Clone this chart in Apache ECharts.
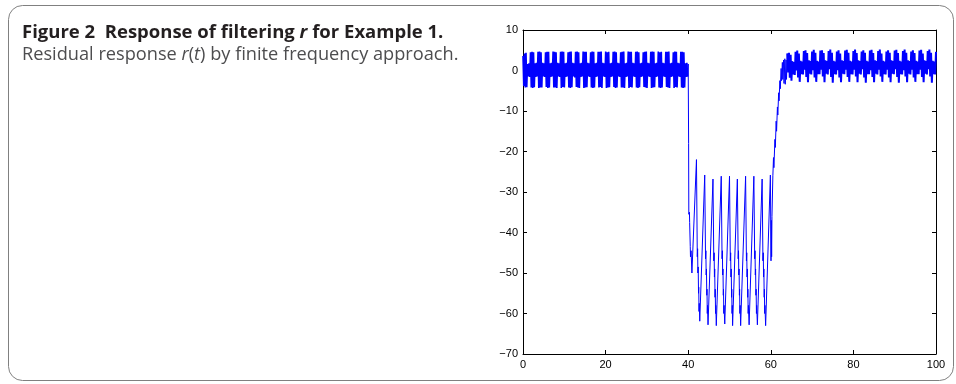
<!DOCTYPE html>
<html>
<head>
<meta charset="utf-8">
<script src="https://cdn.jsdelivr.net/npm/echarts@6/dist/echarts.min.js"></script>
<style>
  html, body { margin: 0; padding: 0; background: #fff; }
  #chart { width: 956px; height: 384px; }
</style>
</head>
<body>
<div id="chart"></div>
<script>
// axis ranges / ticks
var xTicks = { min: 0, max: 100, interval: 20 };
var yTicks = { min: -70, max: 10, interval: 10 };

// part 1: dense oscillation 0..40, sampled every dt1 from t1
var t1 = 0.0, dt1 = 0.182;
var band1 = [
  3.6,-3.8,4.2,-4.2,4.4,-4.1,1.6,-1.5,1.8,-1.6,
  4.5,-4.2,4.6,-4.3,4.5,-4.1,1.8,-1.6,1.9,-1.5,
  4.6,-4.3,4.7,-4.2,4.5,-4.2,1.9,-1.5,1.8,-1.6,
  4.5,-4.1,4.6,-4.3,4.6,-4.2,1.8,-1.6,1.9,-1.5,
  4.7,-4.2,4.6,-4.2,4.5,-4.3,1.9,-1.5,1.8,-1.6,
  4.6,-4.3,4.7,-4.1,4.6,-4.2,1.8,-1.6,1.9,-1.5,
  4.5,-4.2,4.6,-4.3,4.7,-4.1,1.9,-1.5,1.8,-1.7,
  4.6,-4.1,4.7,-4.2,4.5,-4.3,1.8,-1.6,1.9,-1.5,
  4.7,-4.3,4.6,-4.2,4.6,-4.1,1.9,-1.5,1.8,-1.6,
  4.5,-4.2,4.7,-4.3,4.6,-4.2,1.8,-1.6,1.9,-1.5,
  4.6,-4.2,4.6,-4.1,4.7,-4.3,1.9,-1.5,1.8,-1.6,
  4.7,-4.3,4.5,-4.2,4.6,-4.1,1.8,-1.6,1.9,-1.5,
  4.6,-4.1,4.7,-4.3,4.5,-4.2,1.9,-1.5,1.8,-1.6,
  4.5,-4.2,4.6,-4.2,4.7,-4.3,1.8,-1.6,1.9,-1.5,
  4.7,-4.3,4.6,-4.1,4.6,-4.2,1.9,-1.5,1.8,-1.6,
  4.6,-4.2,4.7,-4.3,4.5,-4.1,1.8,-1.6,1.9,-1.5,
  4.5,-4.1,4.6,-4.2,4.7,-4.3,1.9,-1.5,1.8,-1.6,
  4.6,-4.3,4.7,-4.2,4.6,-4.1,1.8,-1.6,1.9,-1.5,
  4.7,-4.2,4.5,-4.3,4.6,-4.2,1.9,-1.5,1.8,-1.6,
  4.6,-4.1,4.6,-4.2,4.7,-4.3,1.8,-1.6,1.9,-1.5,
  4.5,-4.3,4.7,-4.1,4.6,-4.2,1.9,-1.5,1.8,-1.6,
  4.6,-4.2,4.6,-4.3,4.5,-4.2,1.8,-1.6,1.9,-1.5
];

// part 2: fault window 40..64, [t, r]
var fault = [
  [40.0,1.6],[40.1,-18],[40.15,-35.5],[40.3,-35],[40.35,-37.5],[40.5,-43.5],[40.55,-46],[40.7,-44.5],[40.9,-50],
  [42.0,-22],
  [42.2,-46],[42.28,-44],[42.35,-50],[42.42,-48.5],[42.5,-55],[42.55,-53.5],[42.62,-59.5],[42.68,-57.5],[42.8,-61.9],
  [44.0,-25.8],
  [44.2,-46.5],[44.28,-44.5],[44.35,-50.5],[44.42,-49],[44.5,-55.5],[44.55,-54],[44.62,-60],[44.68,-58],[44.8,-62.8],
  [46.0,-26.8],
  [46.2,-47],[46.28,-45],[46.35,-51],[46.42,-49],[46.5,-56],[46.55,-54],[46.62,-60],[46.68,-58],[46.8,-63],
  [48.0,-26.1],
  [48.2,-46.5],[48.28,-44.5],[48.35,-50.5],[48.42,-49],[48.5,-55.5],[48.55,-54],[48.62,-60],[48.68,-58],[48.85,-62.6],
  [50.0,-26.1],
  [50.2,-47],[50.28,-45],[50.35,-51],[50.42,-49],[50.5,-56],[50.55,-54],[50.62,-60],[50.68,-58],[50.75,-63],
  [51.9,-26.8],
  [52.1,-46.5],[52.18,-44.5],[52.25,-50.5],[52.32,-49],[52.4,-55.5],[52.45,-54],[52.52,-60],[52.58,-58],[52.7,-63],
  [53.9,-26.1],
  [54.1,-47],[54.18,-45],[54.25,-51],[54.32,-49],[54.4,-56],[54.45,-54],[54.52,-60],[54.58,-58],[54.75,-62.8],
  [55.9,-26.1],
  [56.1,-46.5],[56.18,-44.5],[56.25,-50.5],[56.32,-49],[56.4,-55.5],[56.45,-54],[56.52,-60],[56.58,-58],[56.75,-62.8],
  [57.9,-26.8],
  [58.1,-47],[58.18,-45],[58.25,-51],[58.32,-49],[58.4,-56],[58.45,-54],[58.52,-60],[58.58,-58],[58.75,-63],
  [59.9,-25.8],
  [60.05,-47],[60.12,-37],[60.2,-46],[60.28,-36],[60.5,-26],[60.65,-21.5],[60.75,-24],[61.0,-17],[61.1,-19],
  [61.3,-12.5],[61.4,-15],[61.6,-9],[61.7,-11],[61.9,-5.5],[62.0,-7.5],[62.2,-2.5],[62.3,-4.5],[62.5,0.5],
  [62.6,-2.5],[62.8,2],[62.9,-2.2],[63.1,2.6],[63.2,-3.2],[63.4,2.9],[63.5,-3.4],[63.7,2.6],[63.8,-2.2]
];

// part 3: recovered oscillation 64..100, sampled every dt3 from t3
var t3 = 64.0, dt3 = 0.2;
var band3 = [
  4.2,-0.5,4.4,-1.8,3.9,-2.5,2.3,-1.0,2.1,-1.1,
  4.6,0.0,4.9,-1.7,4.2,-2.8,2.4,-0.9,2.2,-1.0,
  4.8,0.2,5.0,-1.6,4.3,-2.9,2.5,-0.8,2.3,-1.0,
  4.7,0.1,5.1,-1.7,4.4,-2.8,2.4,-0.9,2.2,-0.9,
  4.9,0.2,5.0,-1.5,4.3,-2.9,2.5,-0.8,2.3,-1.0,
  4.8,0.3,5.2,-1.6,4.4,-3.0,2.4,-0.9,2.2,-1.0,
  4.7,0.1,5.0,-1.7,4.2,-2.9,2.5,-0.8,2.3,-0.9,
  4.9,0.2,5.1,-1.6,4.4,-2.8,2.4,-0.9,2.2,-1.0,
  4.8,0.2,5.2,-1.5,4.3,-2.9,2.5,-0.8,2.3,-1.0,
  4.7,0.3,5.0,-1.7,4.4,-3.0,2.4,-0.9,2.2,-0.9,
  4.9,0.1,5.1,-1.6,4.3,-2.9,2.5,-0.8,2.3,-1.0,
  4.8,0.2,5.2,-1.5,4.2,-2.8,2.4,-0.9,2.2,-1.0,
  4.7,0.2,5.0,-1.7,4.4,-2.9,2.5,-0.8,2.3,-0.9,
  4.9,0.3,5.1,-1.6,4.3,-3.0,2.4,-0.9,2.2,-1.0,
  4.8,0.1,5.2,-1.5,4.4,-2.9,2.5,-0.8,2.3,-1.0,
  4.7,0.2,5.0,-1.7,4.3,-2.8,2.4,-0.9,2.2,-0.9,
  4.9,0.2,5.1,-1.6,4.2,-2.9,2.5,-0.8,2.3,-1.0,
  4.8,0.3,5.2,-1.5,4.4,-3.0,2.4,-0.9,2.2,-1.0,
  4.6
];

var part1 = band1.map(function (v, i) { return [t1 + i * dt1, v]; });
var part3 = band3.map(function (v, i) { return [t3 + i * dt3, v]; });
// the fault part is joined to the last/first samples of the dense parts
var part2 = [part1[part1.length - 1]].concat(fault, [part3[0]]);

function minus(v) { return String(v).replace('-', '\u2212'); }

var axisFont = { fontFamily: 'Liberation Sans', fontSize: 11, color: '#000' };
function axisBase(pos, r, labels) {
  return {
    type: 'value', position: pos, min: r.min, max: r.max, interval: r.interval,
    axisLine: { show: true, onZero: false, lineStyle: { color: '#000', width: 1 } },
    axisTick: { show: true, inside: true, length: 4, lineStyle: { color: '#000' } },
    splitLine: { show: false },
    axisLabel: labels ? Object.assign({ margin: 5, formatter: minus }, axisFont) : { show: false }
  };
}

function lineSeries(data, w) {
  return {
    type: 'line', data: data, showSymbol: false, sampling: 'none', clip: true,
    lineStyle: { color: '#0000ff', width: w }
  };
}

var ink = '#231f20', grey = '#4d4d4f';
var myChart = echarts.init(document.getElementById('chart'));
myChart.setOption({
  animation: false,
  title: [{
    left: 22, top: 23, padding: 0,
    text: '{b|Figure 2  Response of filtering }{bi|r}{b| for Example 1.}',
    textStyle: { rich: {
      b: { fontFamily: 'Open Sans', fontWeight: 'bold', fontSize: 18.5, color: ink },
      bi: { fontFamily: 'Open Sans', fontWeight: 'bold', fontStyle: 'italic', fontSize: 18.5, color: ink }
    } }
  }, {
    left: 22, top: 46, padding: 0,
    text: '{n|Residual response }{i|r}{n|(}{i|t}{n|) by finite frequency approach.}',
    textStyle: { fontWeight: 'normal', rich: {
      n: { fontFamily: 'Open Sans', fontWeight: 'normal', fontSize: 18.2, color: grey },
      i: { fontFamily: 'Open Sans', fontWeight: 'normal', fontStyle: 'italic', fontSize: 18.2, color: grey }
    } }
  }],
  graphic: [{
    type: 'rect', silent: true, z: -1,
    shape: { x: 8.5, y: 5.5, width: 945, height: 375, r: 14 },
    style: { fill: 'none', stroke: '#808080', lineWidth: 1 }
  }],
  grid: { left: 523, right: 20, top: 30, bottom: 30, containLabel: false },
  xAxis: [axisBase('bottom', xTicks, true), axisBase('top', xTicks, false)],
  yAxis: [axisBase('left', yTicks, true), axisBase('right', yTicks, false)],
  series: [lineSeries(part1, 1.6), lineSeries(part2, 1), lineSeries(part3, 2)]
});
</script>
</body>
</html>
